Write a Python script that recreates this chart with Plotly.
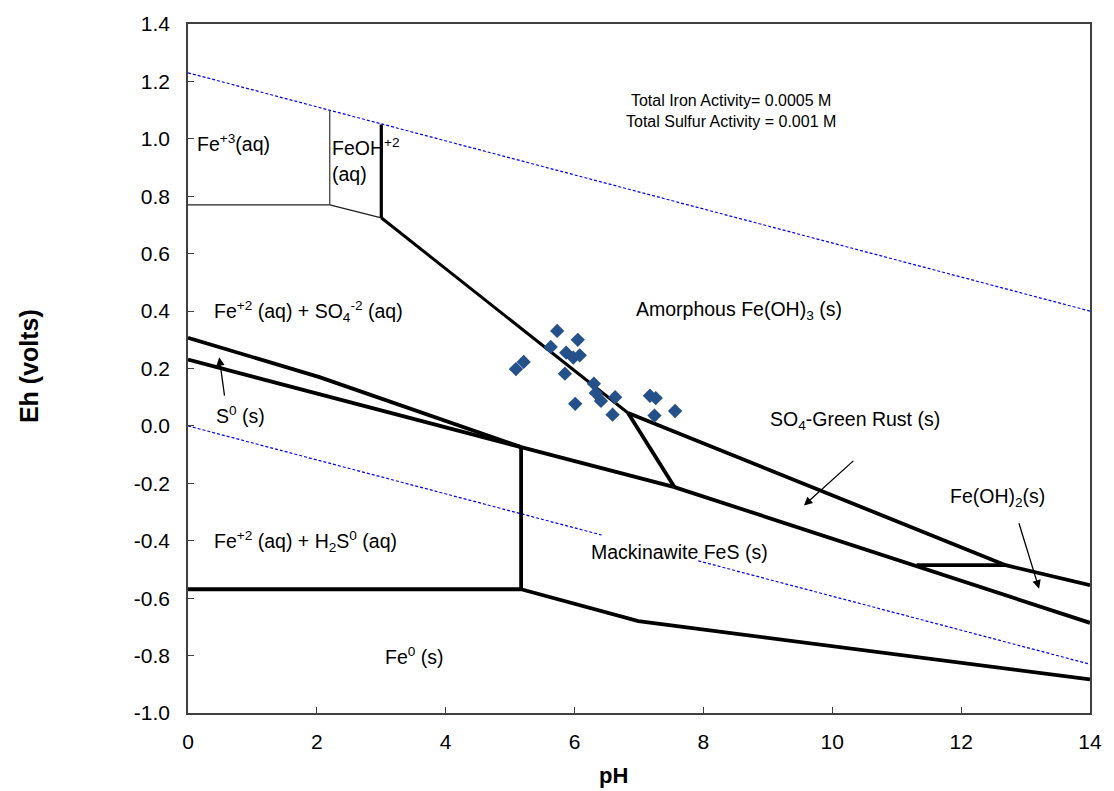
import plotly.graph_objects as go

# Eh-pH stability boundaries for the Fe-S-H2O system (pH, Eh in volts)
water_upper_ph = [0, 14]
water_upper_eh = [1.23, 0.40]
water_lower_ph = [0, 6.42, None, 7.92, 14]
water_lower_eh = [0.0, -0.38, None, -0.47, -0.83]

fe3_floor_ph = [0, 2.2]
fe3_floor_eh = [0.77, 0.77]
fe3_feoh_ph = [2.2, 2.2]
fe3_feoh_eh = [0.77, 1.10]
feoh_floor_ph = [2.2, 3.0]
feoh_floor_eh = [0.77, 0.725]

feoh_fe_oh3_ph = [3.0, 3.0]
feoh_fe_oh3_eh = [0.725, 1.05]
fe2_fe_oh3_ph = [3.0, 6.83]
fe2_fe_oh3_eh = [0.725, 0.045]

green_rust_left_ph = [6.83, 7.55]
green_rust_left_eh = [0.045, -0.213]
green_rust_top_ph = [6.83, 12.69, 14]
green_rust_top_eh = [0.045, -0.485, -0.555]
fes_top_ph = [5.17, 7.55, 14]
fes_top_eh = [-0.074, -0.213, -0.686]
fe_oh2_floor_ph = [11.31, 12.69]
fe_oh2_floor_eh = [-0.485, -0.485]

sulfur_top_ph = [0, 2.04, 5.17]
sulfur_top_eh = [0.307, 0.170, -0.074]
sulfur_bottom_ph = [0, 5.17]
sulfur_bottom_eh = [0.231, -0.074]

h2s_fes_ph = [5.17, 5.17]
h2s_fes_eh = [-0.074, -0.569]
fe0_top_ph = [0, 5.17]
fe0_top_eh = [-0.569, -0.569]
fe0_fes_ph = [5.17, 6.99, 14]
fe0_fes_eh = [-0.569, -0.680, -0.883]

# Measured samples
sample_ph = [5.73, 6.05, 5.63, 5.87, 6.08, 5.98, 5.21, 5.09, 5.85, 6.30,
             6.33, 6.63, 6.41, 7.17, 7.26, 6.01, 7.56, 6.59, 7.24]
sample_eh = [0.331, 0.300, 0.275, 0.255, 0.246, 0.238, 0.223, 0.198, 0.182, 0.147,
             0.115, 0.100, 0.087, 0.105, 0.097, 0.077, 0.052, 0.039, 0.036]

x_ticks = [0, 2, 4, 6, 8, 10, 12, 14]
y_ticks = [1.4, 1.2, 1.0, 0.8, 0.6, 0.4, 0.2, 0.0, -0.2, -0.4, -0.6, -0.8, -1.0]

FONT = "Liberation Sans, Arial, sans-serif"
AXIS_COLOR = "#404040"

fig = go.Figure()

def boundary(ph, eh, width, color="black", dash="solid"):
    fig.add_trace(go.Scatter(
        x=ph, y=eh, mode="lines", showlegend=False, hoverinfo="skip",
        line=dict(color=color, width=width, dash=dash),
    ))

boundary(water_upper_ph, water_upper_eh, 1.2, "#0000FF", "3px,2px")
boundary(water_lower_ph, water_lower_eh, 1.2, "#0000FF", "3px,2px")

boundary(fe3_floor_ph, fe3_floor_eh, 1.3, "#202020")
boundary(fe3_feoh_ph, fe3_feoh_eh, 1.3, "#404040")
boundary(feoh_floor_ph, feoh_floor_eh, 1.3, "#202020")
boundary(feoh_fe_oh3_ph, feoh_fe_oh3_eh, 3.2)
boundary(fe2_fe_oh3_ph, fe2_fe_oh3_eh, 3)

thick = 3.8
boundary(green_rust_left_ph, green_rust_left_eh, thick)
boundary(green_rust_top_ph, green_rust_top_eh, thick)
boundary(fes_top_ph, fes_top_eh, thick)
boundary(fe_oh2_floor_ph, fe_oh2_floor_eh, thick)
boundary(sulfur_top_ph, sulfur_top_eh, thick)
boundary(sulfur_bottom_ph, sulfur_bottom_eh, thick)
boundary(h2s_fes_ph, h2s_fes_eh, thick)
boundary(fe0_top_ph, fe0_top_eh, thick)
boundary(fe0_fes_ph, fe0_fes_eh, thick)

fig.add_trace(go.Scatter(
    x=sample_ph, y=sample_eh, mode="markers", showlegend=False,
    marker=dict(symbol="diamond", size=11, color="#24518A"),
))

# Activity note
fig.add_annotation(x=8.43, y=1.096, showarrow=False, xanchor="center",
                   yanchor="middle", align="center",
                   text="Total Iron Activity= 0.0005 M<br>Total Sulfur Activity = 0.001 M",
                   font=dict(family=FONT, size=16, color="black"))

# Stability field labels
labels = [
    (0.11, 0.986, "Fe<sup>+3</sup>(aq)"),
    (2.21, 0.925, "FeOH<sup>+2</sup><br>(aq)"),
    (0.37, 0.398, "Fe<sup>+2</sup> (aq) + SO<sub>4</sub><sup>-2</sup> (aq)"),
    (0.40, 0.037, "S<sup>0</sup> (s)"),
    (6.92, 0.402, "Amorphous Fe(OH)<sub>3</sub> (s)"),
    (9.0, 0.019, "SO<sub>4</sub>-Green Rust (s)"),
    (11.79, -0.249, "Fe(OH)<sub>2</sub>(s)"),
    (6.23, -0.44, "Mackinawite FeS (s)"),
    (0.37, -0.402, "Fe<sup>+2</sup> (aq) + H<sub>2</sub>S<sup>0</sup> (aq)"),
    (3.03, -0.802, "Fe<sup>0</sup> (s)"),
]
for x, y, text in labels:
    fig.add_annotation(x=x, y=y, text=text, showarrow=False, xanchor="left",
                       yanchor="middle", align="left",
                       font=dict(family=FONT, size=19.5, color="black"))

# Pointer arrows: (head pH, head Eh, tail pH, tail Eh)
arrows = [
    (0.485, 0.239, 0.57, 0.10),
    (9.56, -0.277, 10.35, -0.117),
    (13.21, -0.567, 12.89, -0.334),
]
for hx, hy, tx, ty in arrows:
    fig.add_annotation(x=hx, y=hy, ax=tx, ay=ty, xref="x", yref="y",
                       axref="x", ayref="y", text="", showarrow=True,
                       arrowhead=2, arrowsize=1.3, arrowwidth=1.3,
                       arrowcolor="black")

# Axis titles
fig.add_annotation(x=0.472, y=-0.09, xref="paper", yref="paper", text="<b>pH</b>",
                   showarrow=False, xanchor="center", yanchor="middle",
                   font=dict(family=FONT, size=22, color="black"))
fig.add_annotation(x=-0.177, y=0.504, xref="paper", yref="paper",
                   text="<b>Eh (volts)</b>", textangle=-90,
                   showarrow=False, xanchor="center", yanchor="middle",
                   font=dict(family=FONT, size=25, color="black"))

fig.update_layout(
    width=1114, height=791,
    margin=dict(l=188, r=21, t=23, b=78),
    paper_bgcolor="white", plot_bgcolor="white",
    font=dict(family=FONT, color="black"),
)
fig.update_xaxes(
    range=[0, 14], tickvals=x_ticks, ticktext=[str(v) for v in x_ticks],
    showgrid=False, zeroline=False, showline=True, mirror=True,
    linecolor=AXIS_COLOR, linewidth=1.6, ticks="inside", ticklen=6,
    tickcolor=AXIS_COLOR, tickwidth=1.3, ticklabelstandoff=9,
    tickfont=dict(family=FONT, size=21),
)
fig.update_yaxes(
    range=[-1.0, 1.4], tickvals=y_ticks, ticktext=[f"{v:.1f}" for v in y_ticks],
    showgrid=False, zeroline=False, showline=True, mirror=True,
    linecolor=AXIS_COLOR, linewidth=1.6, ticks="inside", ticklen=6,
    tickcolor=AXIS_COLOR, tickwidth=1.3, ticklabelstandoff=12,
    tickfont=dict(family=FONT, size=21),
)

fig.write_html("out.html")
